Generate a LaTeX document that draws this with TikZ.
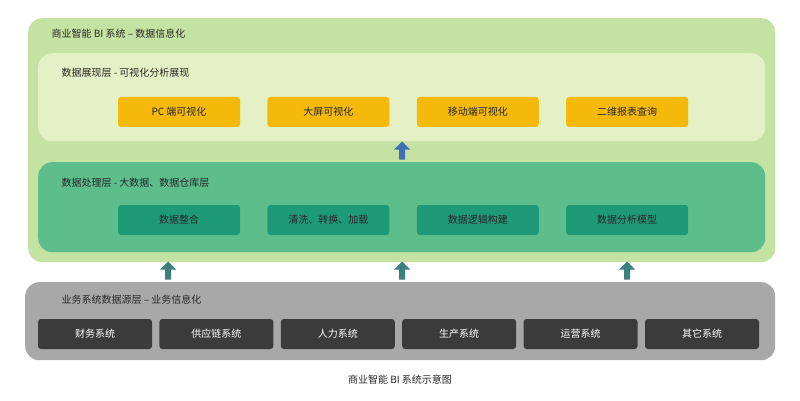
\documentclass[tikz,border=0pt]{standalone}
\usepackage{fontspec}
\setmainfont{Noto Sans CJK SC}
\usetikzlibrary{positioning,shapes.arrows}
\definecolor{outergreen}{HTML}{C4E3A2}
\definecolor{palegreen}{HTML}{E4F0C6}
\definecolor{midgreen}{HTML}{5DBE8C}
\definecolor{darkteal}{HTML}{1F9A78}
\definecolor{boxyellow}{HTML}{F5B90A}
\definecolor{srcgray}{HTML}{A8A8A8}
\definecolor{boxdark}{HTML}{3B3B3B}
\definecolor{arrowblue}{HTML}{3F6FB5}
\definecolor{arrowteal}{HTML}{3E7F80}
\tikzset{
  layer/.style={rounded corners=14pt,inner sep=0pt,anchor=north west},
  ybox/.style={fill=boxyellow,rounded corners=3pt,minimum width=122pt,minimum height=30pt,font=\fontsize{10}{12}\selectfont,text=black!85},
  tbox/.style={fill=darkteal,rounded corners=3pt,minimum width=122pt,minimum height=30pt,font=\fontsize{10}{12}\selectfont,text=black!85},
  dbox/.style={fill=boxdark,rounded corners=3pt,minimum width=114pt,minimum height=30pt,font=\fontsize{10}{12}\selectfont,text=white},
  lbl/.style={anchor=west,font=\fontsize{10}{12}\selectfont,text=black!85},
  uparrow/.style={single arrow,draw=none,fill=#1,rotate=90,minimum height=18pt,minimum width=16pt,single arrow head extend=2pt,inner sep=1pt}
}
\begin{document}
\begin{tikzpicture}[x=1pt,y=-1pt,node distance=27pt]
	\useasboundingbox (0,0) rectangle (800,401);
	\node[layer,fill=outergreen,minimum width=747pt,minimum height=244pt] (bi) at (28,18) {};
	\node[lbl] (bititle) at (48,34) {商业智能 BI 系统 – 数据信息化};
	
	\node[layer,fill=palegreen,minimum width=727pt,minimum height=88pt] (show) at (38,53) {};
	\node[lbl] (showtitle) at (58,73) {数据展现层 - 可视化分析展现};
	\node[ybox] (pc) at (179,112) {PC 端可视化};
	\node[ybox] (screen) [right = of pc] {大屏可视化};
	\node[ybox] (mobile) [right = of screen] {移动端可视化};
	\node[ybox] (report) [right = of mobile] {二维报表查询};
	
	\node[layer,fill=midgreen,minimum width=727pt,minimum height=90pt] (proc) at (38,162) {};
	\node[lbl] (proctitle) at (58,183) {数据处理层 - 大数据、数据仓库层};
	\node[tbox] (merge) at (179,220) {数据整合};
	\node[tbox] (etl) [right = of merge] {清洗、转换、加载};
	\node[tbox] (logic) [right = of etl] {数据逻辑构建};
	\node[tbox] (model) [right = of logic] {数据分析模型};
	
	\node[layer,fill=srcgray,minimum width=750pt,minimum height=78pt] (src) at (25,282) {};
	\node[lbl] (srctitle) at (58,300) {业务系统数据源层 – 业务信息化};
	\node[dbox] (fin) at (95,334) {财务系统};
	\node[dbox] (supply) [right = 7pt of fin] {供应链系统};
	\node[dbox] (hr) [right = 7pt of supply] {人力系统};
	\node[dbox] (prod) [right = 7pt of hr] {生产系统};
	\node[dbox] (ops) [right = 7pt of prod] {运营系统};
	\node[dbox] (other) [right = 7pt of ops] {其它系统};
	
	\node[uparrow=arrowblue] (up1) at (402,152) {};
	\node[uparrow=arrowteal] (up2) at (168,272) {};
	\node[uparrow=arrowteal] (up3) at (402,272) {};
	\node[uparrow=arrowteal] (up4) at (627,272) {};
	
	\node[font=\fontsize{10}{12}\selectfont,text=black!85] (caption) at (400,380) {商业智能 BI 系统示意图};
\end{tikzpicture}
\end{document}
